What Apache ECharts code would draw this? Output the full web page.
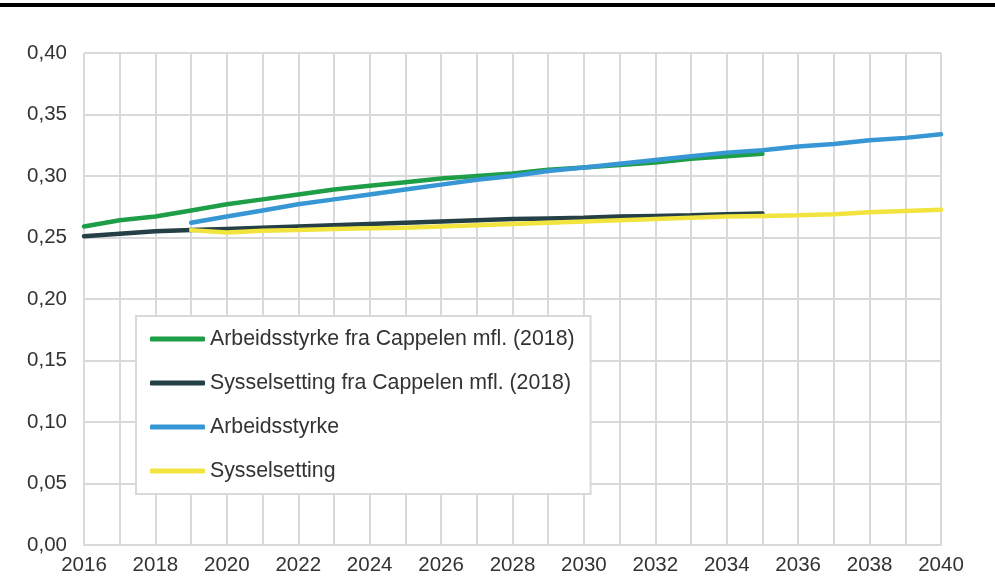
<!DOCTYPE html>
<html>
<head>
<meta charset="utf-8">
<script src="https://cdn.jsdelivr.net/npm/echarts@6/dist/echarts.min.js"></script>
<style>
html,body{margin:0;padding:0;background:#fff;}
#chart{width:995px;height:586px;}
</style>
</head>
<body>
<div id="chart"></div>
<script>
var FONT = "'Liberation Sans', Arial, sans-serif";

var yearsCappelen = [2016,2017,2018,2019,2020,2021,2022,2023,2024,2025,2026,2027,2028,2029,2030,2031,2032,2033,2034,2035];
var yearsOwn = [2019,2020,2021,2022,2023,2024,2025,2026,2027,2028,2029,2030,2031,2032,2033,2034,2035,2036,2037,2038,2039,2040];

var arbeidsstyrkeCappelen = [0.259,0.264,0.267,0.272,0.277,0.281,0.285,0.289,0.292,0.295,0.298,0.300,0.302,0.305,0.307,0.309,0.311,0.314,0.316,0.318];
var sysselsettingCappelen = [0.251,0.253,0.255,0.256,0.257,0.258,0.259,0.260,0.261,0.262,0.263,0.264,0.265,0.2655,0.266,0.267,0.2675,0.268,0.269,0.2695];
var arbeidsstyrke = [0.262,0.267,0.272,0.277,0.281,0.285,0.289,0.293,0.297,0.300,0.304,0.307,0.310,0.313,0.316,0.319,0.321,0.324,0.326,0.329,0.331,0.334];
var sysselsetting = [0.256,0.254,0.2555,0.256,0.257,0.2575,0.258,0.259,0.260,0.261,0.262,0.263,0.264,0.265,0.266,0.267,0.2675,0.268,0.269,0.2705,0.2715,0.2725];

var seriesNames = ['Arbeidsstyrke fra Cappelen mfl. (2018)','Sysselsetting fra Cappelen mfl. (2018)','Arbeidsstyrke','Sysselsetting'];
var seriesColors = ['#1f9e48','#243f45','#3796d4','#f1e43f'];

function pairs(xs, ys){ return xs.map(function(x,i){ return [x, ys[i]]; }); }
var seriesData = [
  pairs(yearsCappelen, arbeidsstyrkeCappelen),
  pairs(yearsCappelen, sysselsettingCappelen),
  pairs(yearsOwn, arbeidsstyrke),
  pairs(yearsOwn, sysselsetting)
];

var chart = echarts.init(document.getElementById('chart'), null, {renderer:'canvas'});
chart.setOption({
  animation:false,
  backgroundColor:'#fff',
  grid:{left:84, right:54, top:53, bottom:41, containLabel:false},
  xAxis:{
    type:'value', min:2016, max:2040, interval:1,
    axisLine:{show:true, lineStyle:{color:'#d9d9d9', width:2}},
    axisTick:{show:false},
    splitLine:{show:true, lineStyle:{color:'#d9d9d9', width:2}},
    axisLabel:{
      color:'#333', fontFamily:FONT, fontSize:20.5, margin:10,
      formatter:function(v){ return (v % 2 === 0) ? String(v) : ''; }
    }
  },
  yAxis:{
    type:'value', min:0, max:0.4, interval:0.05,
    axisLine:{show:false}, axisTick:{show:false},
    splitLine:{show:true, lineStyle:{color:'#d9d9d9', width:2}},
    axisLabel:{
      color:'#333', fontFamily:FONT, fontSize:20.5, margin:17, padding:[3,0,0,0],
      formatter:function(v){ return v.toFixed(2).replace('.', ','); }
    }
  },
  legend:{
    left:136, top:316, orient:'vertical',
    padding:[11,16,11,14], itemGap:20,
    itemWidth:55, itemHeight:5, icon:'roundRect',
    backgroundColor:'#fff', borderColor:'#d9d9d9', borderWidth:2,
    textStyle:{color:'#333', fontFamily:FONT, fontSize:21.3, lineHeight:24, padding:[0,0,0,0]},
    data:seriesNames
  },
  graphic:[{
    type:'rect', left:0, top:3, shape:{width:995, height:4}, style:{fill:'#000'}
  }],
  series:seriesNames.map(function(n,i){
    return {
      name:n, type:'line', data:seriesData[i], symbol:'none', smooth:false,
      lineStyle:{color:seriesColors[i], width:4.5, cap:'round'},
      itemStyle:{color:seriesColors[i]}
    };
  })
});
</script>
</body>
</html>
